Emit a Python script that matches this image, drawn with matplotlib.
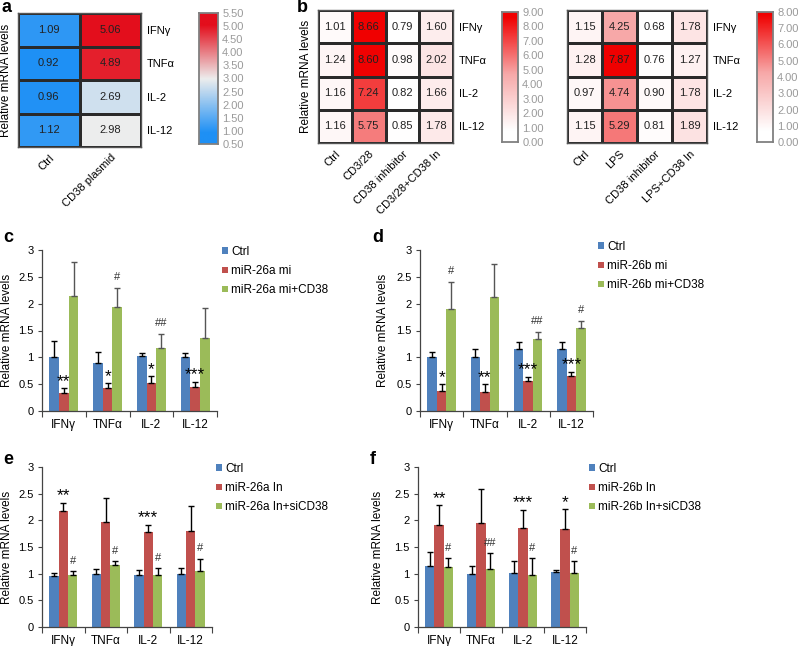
import matplotlib
matplotlib.use("Agg")
import matplotlib.pyplot as plt
import numpy as np
from matplotlib.colors import LinearSegmentedColormap, Normalize

plt.rcParams["font.family"] = ["Liberation Sans", "DejaVu Sans"]

W, H = 798, 646

genes = ["IFNγ", "TNFα", "IL-2", "IL-12"]

# panel a heatmap
a_groups = ["Ctrl", "CD38 plasmid"]
a_ctrl = [1.09, 0.92, 0.96, 1.12]
a_cd38 = [5.06, 4.89, 2.69, 2.98]
a_cbar_ticks = [0.5, 1.0, 1.5, 2.0, 2.5, 3.0, 3.5, 4.0, 4.5, 5.0, 5.5]

# panel b heatmaps
b1_groups = ["Ctrl", "CD3/28", "CD38 inhibitor", "CD3/28+CD38 In"]
b1_ctrl = [1.01, 1.24, 1.16, 1.16]
b1_cd328 = [8.66, 8.60, 7.24, 5.75]
b1_inhib = [0.79, 0.98, 0.82, 0.85]
b1_combo = [1.60, 2.02, 1.66, 1.78]
b1_cbar_ticks = list(range(0, 10))

b2_groups = ["Ctrl", "LPS", "CD38 inhibitor", "LPS+CD38 In"]
b2_ctrl = [1.15, 1.28, 0.97, 1.15]
b2_lps = [4.25, 7.87, 4.74, 5.29]
b2_inhib = [0.68, 0.76, 0.90, 0.81]
b2_combo = [1.78, 1.27, 1.78, 1.89]
b2_cbar_ticks = list(range(0, 9))

# panel c
c_labels = ["Ctrl", "miR-26a mi", "miR-26a mi+CD38"]
c_ctrl = [1.01, 0.90, 1.03, 1.00]
c_ctrl_err = [0.29, 0.20, 0.05, 0.08]
c_mi = [0.33, 0.42, 0.53, 0.44]
c_mi_err = [0.09, 0.10, 0.12, 0.10]
c_cd38 = [2.15, 1.94, 1.18, 1.36]
c_cd38_err = [0.62, 0.36, 0.26, 0.55]
c_marks_red = ["**", "*", "*", "***"]
c_marks_green = ["", "#", "##", ""]

# panel d
d_labels = ["Ctrl", "miR-26b mi", "miR-26b mi+CD38"]
d_ctrl = [1.00, 1.00, 1.15, 1.15]
d_ctrl_err = [0.10, 0.15, 0.13, 0.13]
d_mi = [0.37, 0.35, 0.56, 0.66]
d_mi_err = [0.13, 0.15, 0.08, 0.07]
d_cd38 = [1.90, 2.13, 1.35, 1.54]
d_cd38_err = [0.51, 0.60, 0.13, 0.14]
d_marks_red = ["*", "**", "***", "***"]
d_marks_green = ["#", "", "##", "#"]

# panel e
e_labels = ["Ctrl", "miR-26a In", "miR-26a In+siCD38"]
e_ctrl = [0.95, 1.00, 0.97, 1.00]
e_ctrl_err = [0.06, 0.08, 0.10, 0.11]
e_in = [2.18, 1.97, 1.79, 1.80]
e_in_err = [0.15, 0.44, 0.13, 0.47]
e_si = [0.98, 1.17, 0.98, 1.05]
e_si_err = [0.07, 0.07, 0.12, 0.23]
e_marks_red = ["**", "", "***", ""]
e_marks_green = ["#", "#", "#", "#"]

# panel f
f_labels = ["Ctrl", "miR-26b In", "miR-26b In+siCD38"]
f_ctrl = [1.15, 1.00, 1.01, 1.03]
f_ctrl_err = [0.25, 0.15, 0.22, 0.04]
f_in = [1.92, 1.95, 1.85, 1.84]
f_in_err = [0.36, 0.64, 0.35, 0.37]
f_si = [1.12, 1.09, 0.98, 1.02]
f_si_err = [0.17, 0.30, 0.31, 0.21]
f_marks_red = ["**", "", "***", "*"]
f_marks_green = ["#", "##", "#", "#"]

BLUE, RED, GREEN = "#4F81BD", "#C0504D", "#9BBB59"


def box(l, t, r, b):
    return [l / W, 1 - b / H, (r - l) / W, (b - t) / H]


def heatmap(fig, rect, cbar_rect, columns, groups, cmap, cbar_ticks, ylabel_x=None):
    data = np.array(columns).T
    norm = Normalize(data.min(), data.max())
    ax = fig.add_axes(box(*rect))
    ax.pcolormesh(data, cmap=cmap, norm=norm, edgecolors="#2a2a2a", linewidth=0.9)
    ax.set_xlim(0, data.shape[1])
    ax.set_ylim(data.shape[0], 0)
    for i in range(data.shape[0]):
        for j in range(data.shape[1]):
            ax.text(j + 0.5, i + 0.5, f"{data[i, j]:.2f}", ha="center", va="center",
                    fontsize=8, color="#222222")
    ax.set_xticks(np.arange(len(groups)) + 0.5)
    ax.set_xticklabels(groups, rotation=45, ha="right", rotation_mode="anchor", fontsize=8)
    ax.yaxis.tick_right()
    ax.set_yticks(np.arange(len(genes)) + 0.5)
    ax.set_yticklabels(genes, fontsize=8)
    ax.tick_params(length=0, pad=4)
    for s in ax.spines.values():
        s.set_color("#555555")
        s.set_linewidth(1.0)
    if ylabel_x is not None:
        ax.yaxis.set_label_position("left")
        ax.set_ylabel("Relative mRNA levels", fontsize=8.5)
        ax.yaxis.set_label_coords(ylabel_x, 0.5)

    cax = fig.add_axes(box(*cbar_rect))
    lo, hi = cbar_ticks[0], cbar_ticks[-1]
    grad = np.linspace(lo, hi, 256)[:, None]
    cax.imshow(grad, cmap=cmap, norm=norm, aspect="auto", origin="lower",
               extent=[0, 1, lo, hi])
    cax.set_xticks([])
    cax.yaxis.tick_right()
    cax.set_yticks(cbar_ticks)
    cax.set_yticklabels([f"{t:.2f}" for t in cbar_ticks], fontsize=8, color="#9a9a9a")
    cax.tick_params(length=0, pad=3)
    for s in cax.spines.values():
        s.set_color("#808080")
        s.set_linewidth(1.3)


def bars(fig, rect, series, errs, labels, marks_red, marks_green, legend_xy,
         label_gap=30, err_green="#555555"):
    ax = fig.add_axes(box(*rect))
    x = np.arange(len(genes))
    w = 0.22
    colors = [BLUE, RED, GREEN]
    ecolors = ["black", "black", err_green]
    handles = []
    for k, (vals, err) in enumerate(zip(series, errs)):
        pos = x + (k - 1) * w
        h = ax.bar(pos, vals, width=w, color=colors[k], label=labels[k])
        ax.errorbar(pos, vals, yerr=[np.zeros(len(err)), err], fmt="none",
                    ecolor=ecolors[k], elinewidth=1.0, capsize=2.2, capthick=1.0)
        handles.append(h)
    for k, marks in ((1, marks_red), (2, marks_green)):
        tops = np.array(series[k]) + np.array(errs[k])
        for i, m in enumerate(marks):
            if not m:
                continue
            if m.startswith("*"):
                ax.text(x[i] + (k - 1) * w, tops[i] - 0.01, m, ha="center", va="bottom",
                        fontsize=12.5, color="black")
            else:
                ax.text(x[i] + (k - 1) * w, tops[i] + 0.1, m, ha="center", va="bottom",
                        fontsize=8, color="#333333")
    ax.set_xlim(-0.5, len(genes) - 0.5)
    ax.set_ylim(0, 3)
    ax.set_yticks(np.arange(0, 3.01, 0.5))
    ax.set_yticklabels([f"{t:g}" for t in np.arange(0, 3.01, 0.5)], fontsize=8)
    ax.set_xticks(np.arange(-0.5, len(genes), 1.0))
    ax.set_xticklabels([])
    ax.set_xticks(x, minor=True)
    ax.set_xticklabels(genes, minor=True, fontsize=8.5)
    ax.tick_params(axis="x", which="major", length=4, direction="out", color="#444444")
    ax.tick_params(axis="x", which="minor", length=0, pad=6)
    ax.tick_params(axis="y", length=3, direction="out", color="#444444", pad=3)
    for s in ("top", "right"):
        ax.spines[s].set_visible(False)
    for s in ("left", "bottom"):
        ax.spines[s].set_color("#444444")
        ax.spines[s].set_linewidth(0.9)
    ax.set_ylabel("Relative mRNA levels", fontsize=8.5)
    ax.yaxis.set_label_coords(-label_gap / (rect[2] - rect[0]), 0.5)
    fig.legend(handles=handles, loc="upper left",
               bbox_to_anchor=(legend_xy[0] / W, 1 - legend_xy[1] / H),
               frameon=False, fontsize=8.5, handlelength=0.5, handleheight=0.5,
               handletextpad=0.3, labelspacing=0.6, borderpad=0, borderaxespad=0)
    return ax


fig = plt.figure(figsize=(W / 100, H / 100), dpi=100)

cmap_a = LinearSegmentedColormap.from_list("a", ["#1E90F5", "#EDEDED", "#E30E1C"])
cmap_b = LinearSegmentedColormap.from_list("b", [(0, "#FFFFFF"), (0.5, "#F7A8A8"), (1, "#F00000")])

heatmap(fig, (18, 13, 141, 147), (199, 13, 218, 144), [a_ctrl, a_cd38], a_groups,
        cmap_a, a_cbar_ticks, -0.045)
heatmap(fig, (318, 10, 453, 143), (502, 12, 518, 142),
        [b1_ctrl, b1_cd328, b1_inhib, b1_combo], b1_groups, cmap_b, b1_cbar_ticks, -0.045)
heatmap(fig, (567, 10, 707, 143), (757, 12, 773, 142),
        [b2_ctrl, b2_lps, b2_inhib, b2_combo], b2_groups, cmap_b, b2_cbar_ticks)

bars(fig, (42, 250, 217, 411), [c_ctrl, c_mi, c_cd38], [c_ctrl_err, c_mi_err, c_cd38_err],
     c_labels, c_marks_red, c_marks_green, (222, 246), label_gap=29)
bars(fig, (420, 250, 593, 411), [d_ctrl, d_mi, d_cd38], [d_ctrl_err, d_mi_err, d_cd38_err],
     d_labels, d_marks_red, d_marks_green, (598, 241), label_gap=31)
bars(fig, (42, 467, 212, 627), [e_ctrl, e_in, e_si], [e_ctrl_err, e_in_err, e_si_err],
     e_labels, e_marks_red, e_marks_green, (216, 463), label_gap=29, err_green="black")
bars(fig, (418, 467, 586, 627), [f_ctrl, f_in, f_si], [f_ctrl_err, f_in_err, f_si_err],
     f_labels, f_marks_red, f_marks_green, (589, 463), label_gap=34, err_green="black")

for letter, (lx, ly) in {"a": (1, 7), "b": (297, 8), "c": (3, 238), "d": (372, 238),
                         "e": (3, 460), "f": (370, 460)}.items():
    fig.text(lx / W, 1 - ly / H, letter, fontsize=13, fontweight="bold", va="center")

fig.savefig("out.png", dpi=100)
